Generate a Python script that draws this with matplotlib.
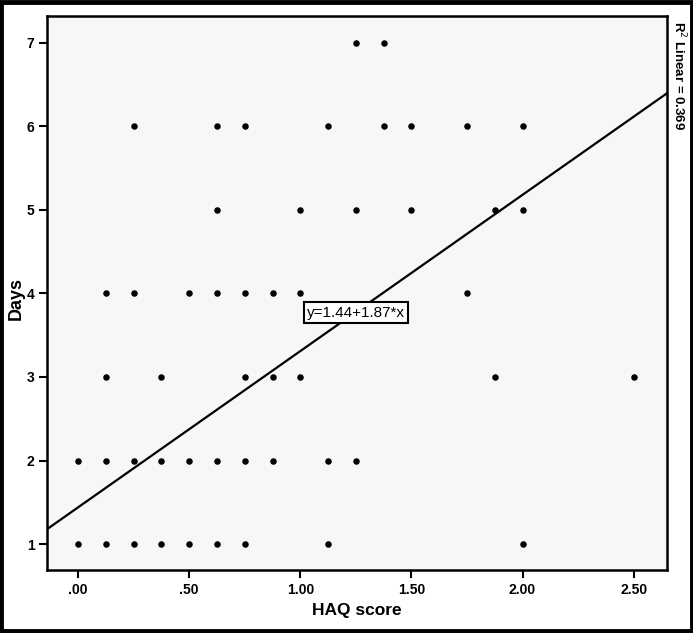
import matplotlib
matplotlib.use("Agg")
import matplotlib.pyplot as plt
from matplotlib.patches import Rectangle

# Data: (HAQ score, Days)
days_7 = [1.25, 1.375]
days_6 = [0.25, 0.625, 0.75, 1.125, 1.375, 1.5, 1.75, 2.0]
days_5 = [0.625, 1.0, 1.25, 1.5, 1.875, 2.0]
days_4 = [0.125, 0.25, 0.5, 0.625, 0.75, 0.875, 1.0, 1.75]
days_3 = [0.125, 0.375, 0.75, 0.875, 1.0, 1.875, 2.5]
days_2 = [0.0, 0.125, 0.25, 0.375, 0.5, 0.625, 0.75, 0.875, 1.125, 1.25]
days_1 = [0.0, 0.125, 0.25, 0.375, 0.5, 0.625, 0.75, 1.125, 2.0]

intercept = 1.44
slope = 1.87
r2 = 0.369

x_ticks = [0.0, 0.5, 1.0, 1.5, 2.0, 2.5]
x_ticklabels = [".00", ".50", "1.00", "1.50", "2.00", "2.50"]
y_ticks = [1, 2, 3, 4, 5, 6, 7]
y_ticklabels = ["1", "2", "3", "4", "5", "6", "7"]

font = ['Liberation Sans', 'DejaVu Sans']

fig = plt.figure(figsize=(6.93, 6.33), dpi=100)
fig.patch.set_facecolor('white')
ax = fig.add_axes([47/693, 1 - 570/633, (667 - 47)/693, (570 - 16)/633])
ax.set_facecolor('#f7f7f7')

xlim = (-0.14, 2.65)
ax.set_xlim(*xlim)
ax.set_ylim(0.69, 7.32)

rows = [(days_1, 1), (days_2, 2), (days_3, 3), (days_4, 4), (days_5, 5), (days_6, 6), (days_7, 7)]
for xs, d in rows:
    ax.scatter(xs, [d] * len(xs), s=22, color='black', zorder=3, linewidths=0)

ax.plot(list(xlim), [intercept + slope * xlim[0], intercept + slope * xlim[1]],
        color='black', lw=1.6, zorder=2)

ax.text(1.25, 3.77, "y=1.44+1.87*x", ha='center', va='center', fontsize=11,
        family=font, zorder=4,
        bbox=dict(boxstyle='square,pad=0.22', facecolor='white', edgecolor='black', lw=1.5))

ax.set_xticks(x_ticks)
ax.set_xticklabels(x_ticklabels, family=font, fontsize=10, fontweight='bold')
ax.set_yticks(y_ticks)
ax.set_yticklabels(y_ticklabels, family=font, fontsize=10, fontweight='bold')
ax.tick_params(direction='out', length=6, width=1.5, color='black', pad=3)
for s in ax.spines.values():
    s.set_linewidth(1.8)
    s.set_color('black')

ax.set_xlabel("HAQ score", family=font, fontsize=12.5, fontweight='bold', labelpad=5)
ax.set_ylabel("Days", family=font, fontsize=13, fontweight='bold')
ax.yaxis.set_label_coords(-0.036, 0.49)

fig.text(679/693, 1 - 21/633, "R$^2$ Linear = 0.369", rotation=-90, ha='center', va='top',
         family=font, fontsize=9.5, fontweight='bold')

fig.patches.append(Rectangle((0.002, 0.0025), 0.996, 0.995, transform=fig.transFigure,
                             fill=False, edgecolor='black', lw=3.5, zorder=10))

fig.savefig("out.png", dpi=100)
